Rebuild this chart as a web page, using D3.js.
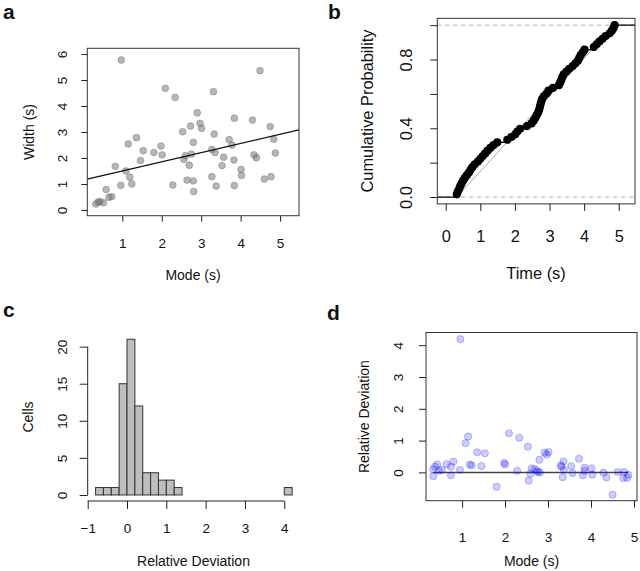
<!DOCTYPE html>
<html><head><meta charset="utf-8">
<script src="https://cdn.jsdelivr.net/npm/d3@7"></script>
<style>body{margin:0;background:#fff}svg{display:block}</style>
</head><body>
<svg id="chart" width="640" height="571"></svg>
<script>
// ---------- Panel a: Width vs Mode ----------
const aMode  = [0.975,4.49,2.09,2.34,3.31,2.90,3.84,4.30,2.97,3.01,2.73,4.75,2.53,3.33,1.36,1.15,3.71,4.84,2.80,3.78,1.53,1.98,1.80,2.01,3.27,3.35,2.75,2.60,2.56,3.57,4.34,4.40,4.88,3.83,1.46,0.82,2.70,3.53,1.09,4.01,4.02,1.19,3.27,1.24,0.96,2.28,2.64,2.80,3.38,2.81,3.84,4.60,4.77,0.59,0.73,0.66,0.43,0.52,0.33,0.39];
const aWidth = [5.77,5.36,4.68,4.33,4.55,3.74,3.53,3.46,3.33,3.14,3.23,3.21,3.01,2.92,2.78,2.54,2.71,2.72,2.60,2.50,2.28,2.46,2.21,2.12,2.33,2.21,2.15,2.09,1.95,2.03,2.12,2.01,2.19,1.92,1.90,1.68,1.72,1.71,1.50,1.56,1.33,1.26,1.28,1.00,0.95,0.96,1.15,1.12,0.92,0.71,0.94,1.19,1.28,0.79,0.51,0.49,0.32,0.28,0.23,0.31];
const aFit = {intercept: 1.15, slope: 0.353};
const aXTicks = [1,2,3,4,5];
const aYTicks = [0,1,2,3,4,5,6];

// ---------- Panel b: ECDF of times ----------
const bTimes = [0.32,0.35,0.39,0.42,0.46,0.50,0.55,0.61,0.67,0.72,0.77,0.84,0.93,1.00,1.07,1.14,1.21,1.29,1.38,1.49,1.78,1.90,2.01,2.07,2.15,2.35,2.48,2.54,2.59,2.63,2.67,2.70,2.72,2.74,2.76,2.79,2.84,2.92,2.97,3.10,3.27,3.31,3.34,3.37,3.41,3.49,3.57,3.67,3.75,3.82,3.86,3.90,3.96,4.01,4.28,4.36,4.44,4.53,4.62,4.74,4.80,4.85,4.88];
const bUniform = [0.32, 4.88];
const bXTicks = [0,1,2,3,4,5];
const bYTicks = [0,0.2,0.4,0.6,0.8,1.0];
const bYLabels = ["0.0","","0.4","","0.8",""];

// ---------- Panel c: histogram ----------
const cBreaks = [-0.8,-0.6,-0.4,-0.2,0,0.2,0.4,0.6,0.8,1.0,1.2,1.4,1.6,1.8,2.0,2.2,2.4,2.6,2.8,3.0,3.2,3.4,3.6,3.8,4.0,4.2];
const cCounts = [1,1,1,15,21,12,3,3,2,2,1,0,0,0,0,0,0,0,0,0,0,0,0,0,1];
const cXTicks = [-1,0,1,2,3,4];
const cYTicks = [0,5,10,15,20];

// ---------- Panel d: relative deviation vs mode ----------
const dMode = [0.96,2.09,1.14,2.33,1.08,2.53,1.35,1.53,2.92,3.01,2.97,3.72,2.80,3.36,0.80,1.98,2.00,1.18,1.22,1.45,0.64,0.42,0.74,0.37,3.54,3.30,3.31,3.85,4.01,0.53,0.33,0.95,0.46,2.28,2.62,2.69,2.74,2.77,2.81,3.37,3.57,3.85,4.29,4.62,4.77,4.03,3.81,4.87,4.75,4.84,4.36,2.59,0.74,0.33,3.34,2.55,1.80,4.50];
const dDev  = [4.19,1.23,1.13,1.09,0.92,0.81,0.63,0.60,0.62,0.64,0.56,0.43,0.40,0.35,0.34,0.30,0.25,0.25,0.22,0.20,0.26,0.25,0.18,0.18,0.20,0.22,0.18,0.15,0.13,0.08,0.09,0.08,0.05,0.05,0.13,0.10,0.05,0.01,0.00,0.08,-0.02,0.05,-0.01,0.01,0.01,-0.07,-0.09,-0.08,-0.18,-0.17,-0.16,-0.04,-0.09,-0.12,-0.15,-0.26,-0.45,-0.70];
const dXTicks = [1,2,3,4,5];
const dYTicks = [0,1,2,3,4];

// ---------- helpers ----------
const FONT = '"Liberation Sans", Arial, Helvetica, sans-serif';
const svg = d3.select("#chart");
const INK = "#222";

function xAxis(x, ticks, y0, tickLen, labelBase, fs, fmt) {
  const ax = d3.axisBottom(x).tickValues(ticks).tickSize(tickLen).tickSizeOuter(0)
    .tickFormat(fmt || (d => d < 0 ? "\u2212" + Math.abs(d) : String(d)));
  const g = svg.append("g").attr("transform", `translate(0,${y0})`).call(ax);
  g.select(".domain").remove();
  g.selectAll(".tick line").attr("stroke", INK);
  g.selectAll(".tick text").attr("y", labelBase - y0).attr("dy", null)
    .attr("font-size", fs).attr("font-family", FONT).attr("fill", "#111");
  return g;
}
function yAxis(y, ticks, x0, tickLen, labelBase, fs, fmt) {
  const ax = d3.axisLeft(y).tickValues(ticks).tickSize(tickLen).tickSizeOuter(0)
    .tickFormat(fmt || (d => String(d)));
  const g = svg.append("g").attr("transform", `translate(${x0},0)`).call(ax);
  g.select(".domain").remove();
  g.selectAll(".tick line").attr("stroke", INK);
  g.selectAll(".tick text").attr("x", 0).attr("y", 0).attr("dy", null)
    .attr("text-anchor", "middle")
    .attr("transform", `translate(${labelBase - x0},0) rotate(-90)`)
    .attr("font-size", fs).attr("font-family", FONT).attr("fill", "#111");
  return g;
}
function label(txt, x, y, fs, rot, weight) {
  svg.append("text").text(txt).attr("x", 0).attr("y", 0)
    .attr("transform", `translate(${x},${y})` + (rot ? " rotate(-90)" : ""))
    .attr("text-anchor", weight ? "start" : "middle")
    .attr("font-family", FONT).attr("font-size", fs)
    .attr("font-weight", weight || "normal").attr("fill", "#111");
}
function box(x, y) {
  svg.append("rect").attr("x", x.range()[0]).attr("y", y.range()[1])
    .attr("width", x.range()[1] - x.range()[0]).attr("height", y.range()[0] - y.range()[1])
    .attr("fill", "none").attr("stroke", "#333").attr("stroke-width", 1);
}
function clip(id, x, y) {
  svg.append("clipPath").attr("id", id).append("rect")
    .attr("x", x.range()[0]).attr("y", y.range()[1])
    .attr("width", x.range()[1] - x.range()[0]).attr("height", y.range()[0] - y.range()[1]);
}

// ---------- Panel a ----------
{
  const x = d3.scaleLinear().domain([0.112, 5.48]).range([87.3, 299]);
  const y = d3.scaleLinear().domain([-0.22, 6.22]).range([215.7, 48.3]);
  clip("clipA", x, y);
  const g = svg.append("g").attr("clip-path", "url(#clipA)");
  g.selectAll("circle").data(aMode).join("circle")
    .attr("cx", d => x(d)).attr("cy", (d, i) => y(aWidth[i])).attr("r", 3.4)
    .attr("fill", "rgba(110,110,110,0.5)").attr("stroke", "rgba(110,110,110,0.5)").attr("stroke-width", 0.8);
  const xd = x.domain();
  g.append("line").attr("x1", x(xd[0])).attr("x2", x(xd[1]))
    .attr("y1", y(aFit.intercept + aFit.slope * xd[0])).attr("y2", y(aFit.intercept + aFit.slope * xd[1]))
    .attr("stroke", "#111").attr("stroke-width", 1.2);
  box(x, y);
  xAxis(x, aXTicks, 215.7, 6, 248, 13.5);
  yAxis(y, aYTicks, 87.3, 6, 67, 13.5);
  label("Mode (s)", 193, 280, 14);
  label("Width (s)", 33.5, 132, 14, true);
  label("a", 3, 18.5, 21, false, "bold");
}

// ---------- Panel b ----------
{
  const x = d3.scaleLinear().domain([-0.243, 5.47]).range([437.3, 635]);
  const y = d3.scaleLinear().domain([-0.04, 1.04]).range([203.9, 18.3]);
  const n = bTimes.length;
  const pts = bTimes.map((t, i) => [t, (i + 1) / n]);
  clip("clipB", x, y);
  const g = svg.append("g").attr("clip-path", "url(#clipB)");
  [0, 1].forEach(v => g.append("line").attr("x1", x.range()[0]).attr("x2", x.range()[1])
    .attr("y1", y(v)).attr("y2", y(v)).attr("stroke", "#aaa").attr("stroke-width", 1)
    .attr("stroke-dasharray", "4,4"));
  g.append("line").attr("x1", x(bUniform[0])).attr("y1", y(0)).attr("x2", x(bUniform[1])).attr("y2", y(1))
    .attr("stroke", "#aaa").attr("stroke-width", 1);
  const stepPts = [[x.domain()[0], 0], ...pts, [x.domain()[1], 1]];
  g.append("path").datum(stepPts)
    .attr("d", d3.line().x(d => x(d[0])).y(d => y(d[1])).curve(d3.curveStepAfter))
    .attr("fill", "none").attr("stroke", "#000").attr("stroke-width", 1.2);
  g.selectAll("circle").data(pts).join("circle")
    .attr("cx", d => x(d[0])).attr("cy", d => y(d[1])).attr("r", 4.1).attr("fill", "#000");
  box(x, y);
  xAxis(x, bXTicks, 203.9, 7, 242, 16.4);
  yAxis(y, bYTicks, 437.3, 7, 411.7, 16.4, (d, i) => bYLabels[i]);
  label("Time (s)", 536, 279, 16.4);
  label("Cumulative Probability", 373, 111, 16.4, true);
  label("b", 328, 18.5, 21, false, "bold");
}

// ---------- Panel c ----------
{
  const x = d3.scaleLinear().domain([-1, 4.4]).range([87.7, 300]);
  const y = d3.scaleLinear().domain([-0.84, 21.84]).range([501.2, 333]);
  svg.append("g").selectAll("rect").data(cCounts).join("rect")
    .attr("x", (d, i) => x(cBreaks[i])).attr("width", (d, i) => x(cBreaks[i + 1]) - x(cBreaks[i]))
    .attr("y", d => y(d)).attr("height", d => y(0) - y(d))
    .attr("fill", "#bebebe").attr("stroke", "#333").attr("stroke-width", 1);
  const gx = xAxis(x, cXTicks, 501, 8, 533, 13.5);
  gx.append("line").attr("x1", x(cXTicks[0])).attr("x2", x(cXTicks[cXTicks.length - 1]))
    .attr("y1", 0).attr("y2", 0).attr("stroke", INK);
  const gy = yAxis(y, cYTicks, 87.7, 8, 66.7, 13.5);
  gy.append("line").attr("x1", 0).attr("x2", 0)
    .attr("y1", y(cYTicks[0])).attr("y2", y(cYTicks[cYTicks.length - 1])).attr("stroke", INK);
  label("Relative Deviation", 193.5, 566, 14);
  label("Cells", 33.3, 417, 14, true);
  label("c", 3, 317, 21, false, "bold");
}

// ---------- Panel d ----------
{
  const x = d3.scaleLinear().domain([0.16, 5.07]).range([426, 637]);
  const y = d3.scaleLinear().domain([-0.89, 4.40]).range([500.7, 332.5]);
  clip("clipD", x, y);
  const g = svg.append("g").attr("clip-path", "url(#clipD)");
  const ext = d3.extent(dMode);
  g.append("line").attr("x1", x(ext[0])).attr("x2", x(ext[1])).attr("y1", y(0)).attr("y2", y(0))
    .attr("stroke", "#444").attr("stroke-width", 1.5);
  g.selectAll("circle").data(dMode).join("circle")
    .attr("cx", d => x(d)).attr("cy", (d, i) => y(dDev[i])).attr("r", 3.6)
    .attr("fill", "rgba(0,0,255,0.2)").attr("stroke", "rgba(0,0,255,0.22)").attr("stroke-width", 1);
  box(x, y);
  xAxis(x, dXTicks, 500.7, 7, 541.7, 13.5);
  yAxis(y, dYTicks, 426, 7, 403, 13.5);
  label("Mode (s)", 531.5, 565.5, 14);
  label("Relative Deviation", 369, 416.6, 14, true);
  label("d", 327, 320, 21, false, "bold");
}
</script>
</body></html>
